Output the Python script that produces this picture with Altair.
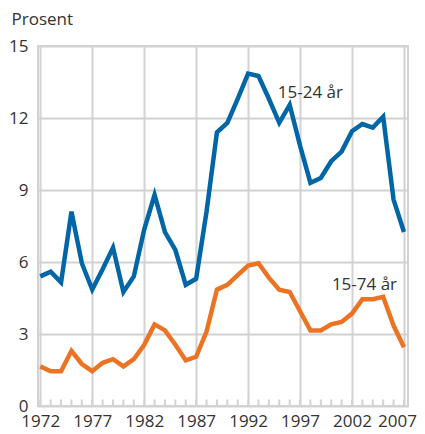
import altair as alt
import pandas as pd

years = list(range(1972, 2008))
age_15_24 = [5.4, 5.6, 5.15, 8.1, 5.95, 4.85, 5.7, 6.6, 4.75, 5.4, 7.35, 8.8,
             7.25, 6.5, 5.05, 5.3, 8.1, 11.4, 11.8, 12.8, 13.85, 13.75, 12.8, 11.8,
             12.55, 10.85, 9.3, 9.5, 10.2, 10.6, 11.45, 11.75, 11.6, 12.05, 8.6, 7.25]
age_15_74 = [1.65, 1.45, 1.45, 2.3, 1.75, 1.45, 1.8, 1.95, 1.65, 1.95, 2.55, 3.4,
             3.15, 2.55, 1.9, 2.05, 3.1, 4.85, 5.05, 5.45, 5.85, 5.95, 5.35, 4.85,
             4.75, 3.95, 3.15, 3.15, 3.4, 3.5, 3.85, 4.45, 4.45, 4.55, 3.35, 2.45]
series_names = ["15-24 år", "15-74 år"]
series_colors = ["#0066a6", "#ea7424"]
label_year = [1998.0, 2003.2]
label_value = [12.85, 4.85]
x_ticks = [1972, 1977, 1982, 1987, 1992, 1997, 2002, 2007]
y_ticks = [0, 3, 6, 9, 12, 15]

df = pd.DataFrame({
    "year": years * 2,
    "value": age_15_24 + age_15_74,
    "series": [series_names[0]] * len(years) + [series_names[1]] * len(years),
})
labels = pd.DataFrame({"year": label_year, "value": label_value, "series": series_names})
ticks = pd.DataFrame({"year": years, "y0": [0] * len(years), "y1": [0.27] * len(years)})

FONT = "Open Sans"
xs = alt.Scale(domain=[1971.78, 2007.39], nice=False, zero=False)
ys = alt.Scale(domain=[0, 15], nice=False)

lines = alt.Chart(df).mark_line(strokeWidth=4.5).encode(
    x=alt.X("year:Q", scale=xs,
            axis=alt.Axis(values=x_ticks, format="d", title=None, grid=True,
                          gridColor="#d2d2d2", gridWidth=2, ticks=False, domain=False,
                          labelFontSize=17, labelFont=FONT, labelColor="#333333",
                          labelPadding=7, labelFlush=False,
                          labelOffset={"condition": {"test": "datum.value == 2007", "value": -7},
                                       "value": 0})),
    y=alt.Y("value:Q", scale=ys,
            axis=alt.Axis(values=y_ticks, title="Prosent", grid=True,
                          gridColor="#d2d2d2", gridWidth=2, ticks=False, domain=False,
                          labelFontSize=17, labelFont=FONT, labelColor="#333333",
                          labelPadding=10,
                          titleAngle=0, titleAlign="left", titleBaseline="alphabetic",
                          titleX=-27, titleY=-22, titleFontSize=17, titleFont=FONT,
                          titleFontWeight="normal", titleColor="#333333")),
    color=alt.Color("series:N", scale=alt.Scale(domain=series_names, range=series_colors),
                    legend=None),
)

minor = alt.Chart(ticks).mark_rule(color="#d2d2d2", strokeWidth=2).encode(
    x=alt.X("year:Q", scale=xs),
    y=alt.Y("y0:Q", scale=ys),
    y2="y1:Q",
)

text = alt.Chart(labels).mark_text(fontSize=17, font=FONT, color="#333333",
                                   align="center", baseline="alphabetic").encode(
    x=alt.X("year:Q", scale=xs),
    y=alt.Y("value:Q", scale=ys),
    text="series:N",
)

chart = alt.layer(minor, lines, text).properties(
    width=370, height=360,
    autosize=alt.AutoSizeParams(type="none"),
    padding={"left": 30, "top": 38, "right": 9, "bottom": 26},
).configure_view(stroke="#d2d2d2", strokeWidth=2)

chart.save("out.html", embed_options={"renderer": "svg", "actions": False})
